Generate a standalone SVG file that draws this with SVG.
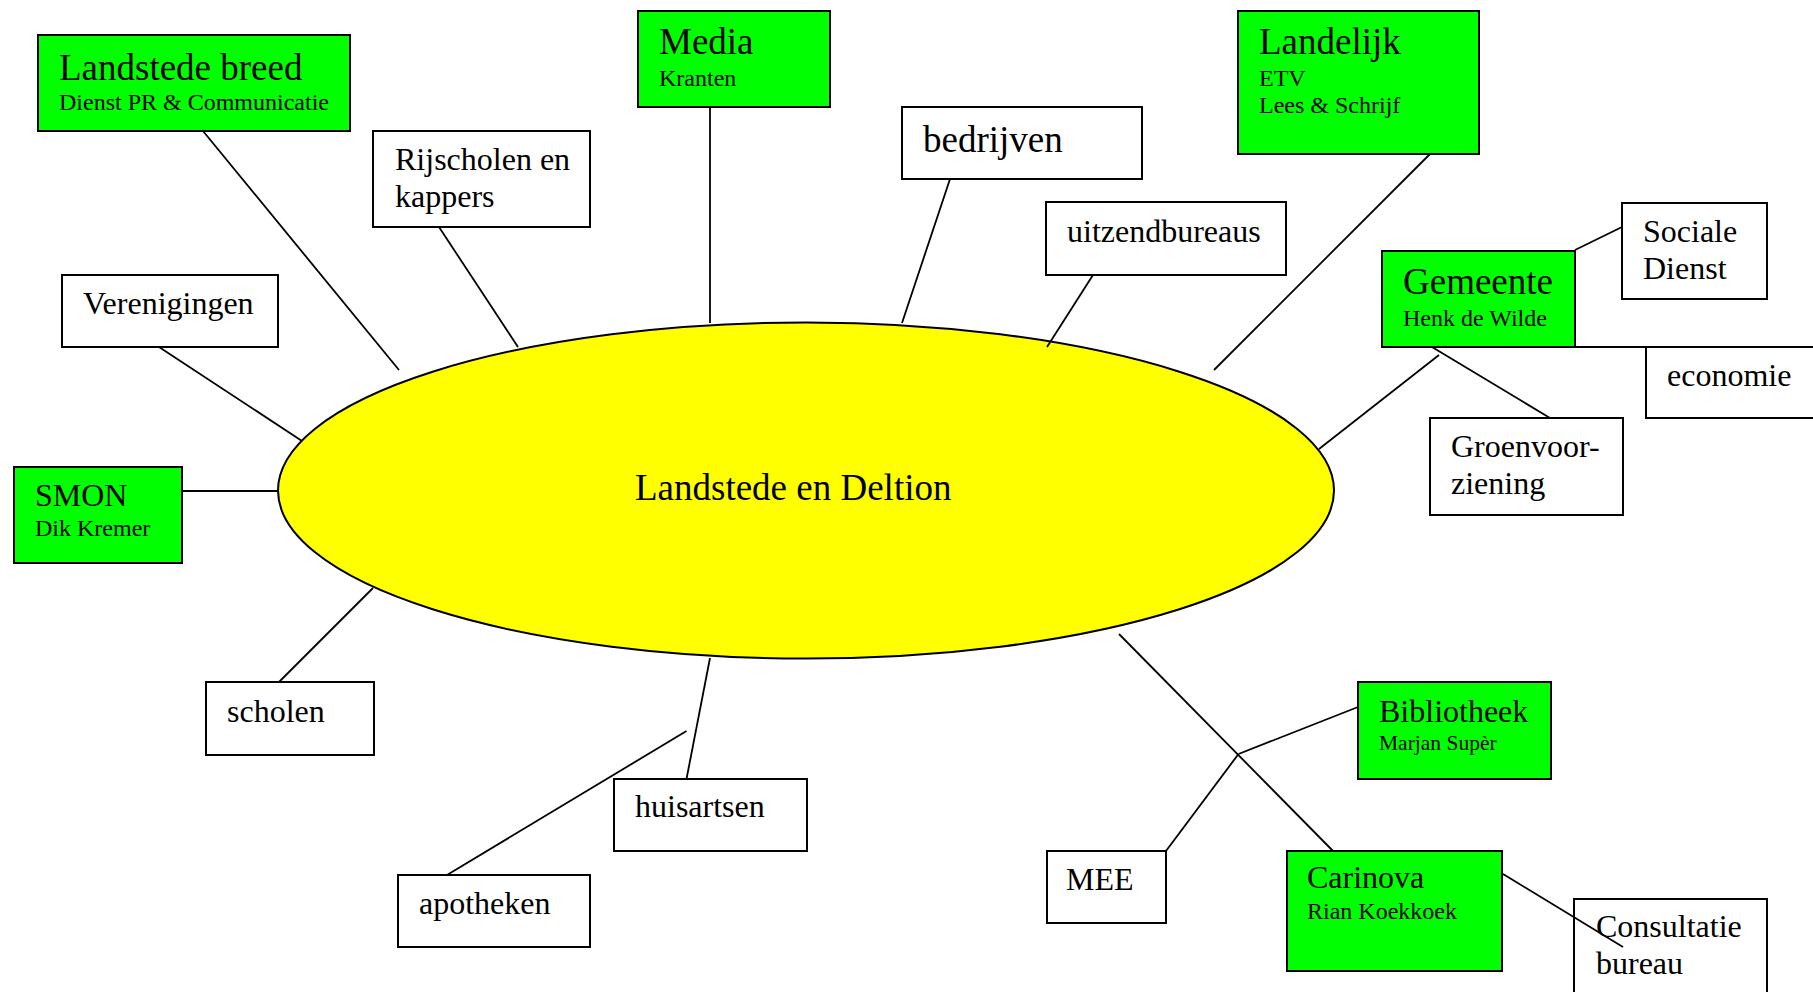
<svg xmlns="http://www.w3.org/2000/svg" width="1813" height="992" viewBox="0 0 1813 992">
<style>
  text { font-family: "Liberation Serif", "Times New Roman", serif; fill: #000; }
  .box { fill: #ffffff; stroke: #000; stroke-width: 2; }
  .green { fill: #00ff00; stroke: #000; stroke-width: 2; }
  .t37 { font-size: 37px; }
  .t32 { font-size: 32px; }
  .t24 { font-size: 24px; }
  .t21 { font-size: 21.5px; }
  .conn line { stroke: #000; stroke-width: 1.8; fill: none; }
</style>
<rect x="0" y="0" width="1813" height="992" fill="#ffffff"/>

<g id="center">
  <ellipse cx="806" cy="490.5" rx="528" ry="168" fill="#ffff00" stroke="#000" stroke-width="2"/>
  <text x="635" y="500" class="t37">Landstede en Deltion</text>
</g>

<g id="landstede-breed">
  <rect x="38" y="35" width="312" height="96" class="green"/>
  <text x="59" y="80" class="t37">Landstede breed</text>
  <text x="59" y="110" class="t24">Dienst PR &amp; Communicatie</text>
</g>

<g id="rijscholen">
  <rect x="373" y="131" width="217" height="96" class="box"/>
  <text x="395" y="170" class="t32">Rijscholen en</text>
  <text x="395" y="207" class="t32">kappers</text>
</g>

<g id="media">
  <rect x="638" y="11" width="192" height="96" class="green"/>
  <text x="659" y="54" class="t37">Media</text>
  <text x="659" y="86" class="t24">Kranten</text>
</g>

<g id="bedrijven">
  <rect x="902" y="107" width="240" height="72" class="box"/>
  <text x="923" y="152" class="t37">bedrijven</text>
</g>

<g id="uitzendbureaus">
  <rect x="1046" y="202" width="240" height="73" class="box"/>
  <text x="1067" y="242" class="t32">uitzendbureaus</text>
</g>

<g id="landelijk">
  <rect x="1238" y="11" width="241" height="143" class="green"/>
  <text x="1259" y="54" class="t37">Landelijk</text>
  <text x="1259" y="86" class="t24">ETV</text>
  <text x="1259" y="113" class="t24">Lees &amp; Schrijf</text>
</g>

<g id="gemeente">
  <rect x="1382" y="251" width="193" height="96" class="green"/>
  <text x="1403" y="294" class="t37">Gemeente</text>
  <text x="1403" y="326" class="t24">Henk de Wilde</text>
</g>

<g id="sociale-dienst">
  <rect x="1622" y="203" width="145" height="96" class="box"/>
  <text x="1643" y="242" class="t32">Sociale</text>
  <text x="1643" y="279" class="t32">Dienst</text>
</g>

<g id="economie">
  <rect x="1646" y="347" width="200" height="71" class="box"/>
  <text x="1667" y="386" class="t32">economie</text>
</g>

<g id="groenvoorziening">
  <rect x="1430" y="418" width="193" height="97" class="box"/>
  <text x="1451" y="457" class="t32">Groenvoor-</text>
  <text x="1451" y="494" class="t32">ziening</text>
</g>

<g id="verenigingen">
  <rect x="62" y="275" width="216" height="72" class="box"/>
  <text x="83" y="314" class="t32">Verenigingen</text>
</g>

<g id="smon">
  <rect x="14" y="467" width="168" height="96" class="green"/>
  <text x="35" y="506" class="t32">SMON</text>
  <text x="35" y="536" class="t24">Dik Kremer</text>
</g>

<g id="scholen">
  <rect x="206" y="682" width="168" height="73" class="box"/>
  <text x="227" y="722" class="t32">scholen</text>
</g>

<g id="huisartsen">
  <rect x="614" y="779" width="193" height="72" class="box"/>
  <text x="635" y="817" class="t32">huisartsen</text>
</g>

<g id="apotheken">
  <rect x="398" y="875" width="192" height="72" class="box"/>
  <text x="419" y="914" class="t32">apotheken</text>
</g>

<g id="mee">
  <rect x="1047" y="851" width="119" height="72" class="box"/>
  <text x="1066" y="890" class="t32">MEE</text>
</g>

<g id="bibliotheek">
  <rect x="1358" y="682" width="193" height="97" class="green"/>
  <text x="1379" y="722" class="t32">Bibliotheek</text>
  <text x="1379" y="750" class="t21">Marjan Supèr</text>
</g>

<g id="carinova">
  <rect x="1287" y="851" width="215" height="120" class="green"/>
  <text x="1307" y="888" class="t32">Carinova</text>
  <text x="1307" y="919" class="t24">Rian Koekkoek</text>
</g>

<g id="consultatiebureau">
  <rect x="1574" y="899" width="193" height="120" class="box"/>
  <text x="1596" y="937" class="t32">Consultatie</text>
  <text x="1596" y="974" class="t32">bureau</text>
</g>

<g id="connectors" class="conn">
  <line x1="203" y1="131" x2="399" y2="370"/>
  <line x1="439" y1="227" x2="518" y2="347"/>
  <line x1="710" y1="107" x2="710" y2="323"/>
  <line x1="950" y1="179" x2="902" y2="323"/>
  <line x1="1093" y1="275" x2="1047" y2="347"/>
  <line x1="1430" y1="154" x2="1214" y2="370"/>
  <line x1="1319" y1="449" x2="1439" y2="355"/>
  <line x1="1432" y1="347" x2="1550" y2="418"/>
  <line x1="1575" y1="250" x2="1622" y2="227"/>
  <line x1="1575" y1="347" x2="1646" y2="347"/>
  <line x1="159" y1="347" x2="302" y2="441"/>
  <line x1="182" y1="491" x2="279" y2="491"/>
  <line x1="279" y1="682" x2="373" y2="588"/>
  <line x1="710" y1="658" x2="686.5" y2="779"/>
  <line x1="686.5" y1="731" x2="447" y2="875"/>
  <line x1="1119" y1="634" x2="1333" y2="851"/>
  <line x1="1238.5" y1="754" x2="1358" y2="707"/>
  <line x1="1238.5" y1="754" x2="1166" y2="851"/>
  <line x1="1503" y1="874" x2="1623" y2="947"/>
</g>
</svg>
